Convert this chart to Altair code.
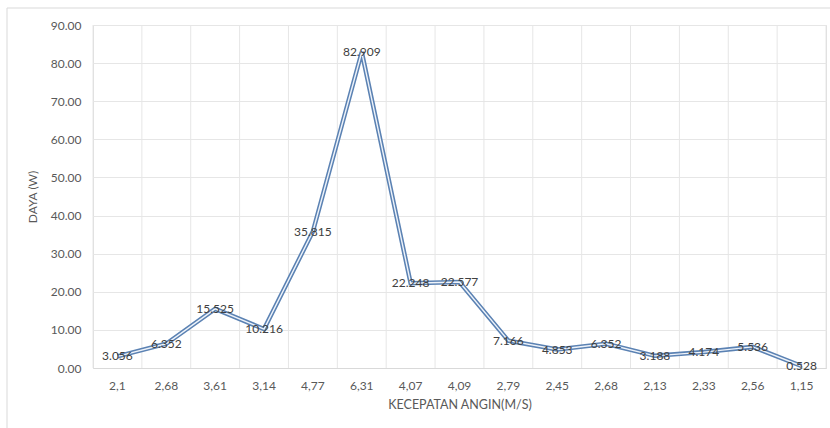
import altair as alt
import pandas as pd

categories = ["2,1", "2,68", "3,61", "3,14", "4,77", "6,31", "4,07", "4,09",
              "2,79", "2,45", "2,68", "2,13", "2,33", "2,56", "1,15"]
values = [3.056, 6.352, 15.525, 10.216, 35.815, 82.909, 22.248, 22.577,
          7.166, 4.853, 6.352, 3.188, 4.174, 5.536, 0.528]

df = pd.DataFrame({
    "idx": list(range(len(categories))),
    "cat": categories,
    "val": values,
    "lbl": [f"{v:.3f}" for v in values],
})

label_array = "[" + ",".join(f"'{c}'" for c in categories) + "]"
FONT = "Lato"
GREY = "#595959"

x_axis = alt.Axis(
    labelExpr=f"{label_array}[datum.value]",
    labelAngle=0,
    tickSize=0,
    labelPadding=12,
    titlePadding=7,
    grid=False,
    domainColor="#d9d9d9",
    labelColor=GREY,
    titleColor=GREY,
    labelFont=FONT,
    titleFont=FONT,
    labelFontSize=12,
    titleFontSize=12.5,
    titleFontWeight="normal",
)
x_scale = alt.Scale(paddingInner=0, paddingOuter=0)
x_enc = alt.X("idx:O", title="KECEPATAN ANGIN(M/S)", scale=x_scale, axis=x_axis)
y_enc = alt.Y(
    "val:Q",
    title="DAYA (W)",
    scale=alt.Scale(domain=[0, 90], nice=False),
    axis=alt.Axis(
        values=list(range(0, 91, 10)),
        format=".2f",
        tickSize=0,
        labelPadding=12,
        titlePadding=11,
        domain=False,
        gridColor="#e6e6e6",
        labelColor=GREY,
        titleColor=GREY,
        labelFont=FONT,
        titleFont=FONT,
        labelFontSize=12,
        titleFontSize=12,
        titleFontWeight="normal",
    ),
)

base = alt.Chart(df)

# vertical gridlines at category boundaries
vgrid = base.mark_rule(color="#e6e6e6", strokeWidth=1).encode(
    x=alt.X("idx:O", title="KECEPATAN ANGIN(M/S)", scale=x_scale, axis=x_axis, bandPosition=0),
    y=alt.value(0),
    y2=alt.value(343),
)
vgrid_end = alt.Chart(pd.DataFrame({"a": [0]})).mark_rule(color="#e6e6e6", strokeWidth=1).encode(
    x=alt.value(733), y=alt.value(0), y2=alt.value(343)
)

frame = alt.Chart(pd.DataFrame({"a": [0]})).mark_rect(
    fill=None, stroke="#d9d9d9", strokeWidth=1
).encode(
    x=alt.value(-86), x2=alt.value(740), y=alt.value(-17), y2=alt.value(410)
)

outer = base.mark_line(color="#5b82b3", strokeWidth=4.5, strokeJoin="miter").encode(x=x_enc, y=y_enc)
inner = base.mark_line(color="#eef3fa", strokeWidth=1.4, strokeJoin="miter").encode(x=x_enc, y=y_enc)

labels = base.mark_text(
    font=FONT, fontSize=12, color="#404040", baseline="middle", align="center"
).encode(x=x_enc, y=y_enc, text="lbl:N")

chart = alt.layer(frame, vgrid, vgrid_end, outer, inner, labels).properties(
    width=733,
    height=343,
    autosize=alt.AutoSizeParams(type="none"),
    padding={"left": 93, "top": 25, "right": 4, "bottom": 60},
).configure_view(stroke=None).configure(background="white")

chart.save("out.html", embed_options={"renderer": "svg", "actions": False})
